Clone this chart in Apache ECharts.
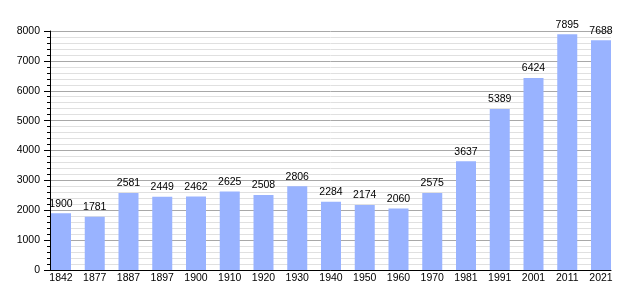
<!DOCTYPE html>
<html><head><meta charset="utf-8">
<script src="https://cdn.jsdelivr.net/npm/echarts@6/dist/echarts.min.js"></script>
<style>html,body{margin:0;padding:0;background:#fff}#c{width:640px;height:300px}</style>
</head><body><div id="c"></div>
<script>
const years = ['1842','1877','1887','1897','1900','1910','1920','1930','1940','1950','1960','1970','1981','1991','2001','2011','2021'];
const population = [1900,1781,2581,2449,2462,2625,2508,2806,2284,2174,2060,2575,3637,5389,6424,7895,7688];
const yTicks = [0,1000,2000,3000,4000,5000,6000,7000,8000];

const font = 'Liberation Sans, Arial, sans-serif';
const chart = echarts.init(document.getElementById('c'), null, {renderer:'canvas'});
chart.setOption({
  animation: false,
  grid: [
    {left: 50, right: 29, top: 31, bottom: 30},
    {left: 61, right: 39, top: 31, bottom: 30}
  ],
  xAxis: [
    {gridIndex: 0, type: 'value', min: 0, max: 1, show: true,
     axisLine: {show: true, onZero: false, lineStyle: {color: '#000', width: 1}},
     axisTick: {show: false}, axisLabel: {show: false}, splitLine: {show: false}},
    {gridIndex: 1, type: 'category', data: years, boundaryGap: false,
     axisLine: {show: false}, axisTick: {show: false},
     axisLabel: {color: '#000', fontSize: 10.5, fontFamily: font, margin: 3, interval: 0},
     splitLine: {show: false}}
  ],
  yAxis: [
    {gridIndex: 0, type: 'value', min: yTicks[0], max: yTicks[yTicks.length-1], interval: 1000,
     axisLine: {show: true, lineStyle: {color: '#000', width: 1}},
     axisTick: {show: true, length: 6, lineStyle: {color: '#000'}},
     minorTick: {show: true, splitNumber: 5, length: 3, lineStyle: {color: '#000'}},
     axisLabel: {color: '#000', fontSize: 10.5, fontFamily: font, margin: 10,
                 formatter: v => String(v)},
     splitLine: {show: true, lineStyle: {color: '#a8a8a8', width: 1}},
     minorSplitLine: {show: true, lineStyle: {color: '#e0e0e0', width: 1}}},
    {gridIndex: 1, type: 'value', min: 0, max: 8000, show: false, splitLine: {show: false}}
  ],
  series: [{
    type: 'bar', xAxisIndex: 1, yAxisIndex: 1, data: population, barWidth: 20,
    itemStyle: {color: '#99b3ff'},
    label: {show: true, position: 'top', distance: 4, color: '#000', fontSize: 10.5, fontFamily: font}
  }]
});
</script></body></html>
